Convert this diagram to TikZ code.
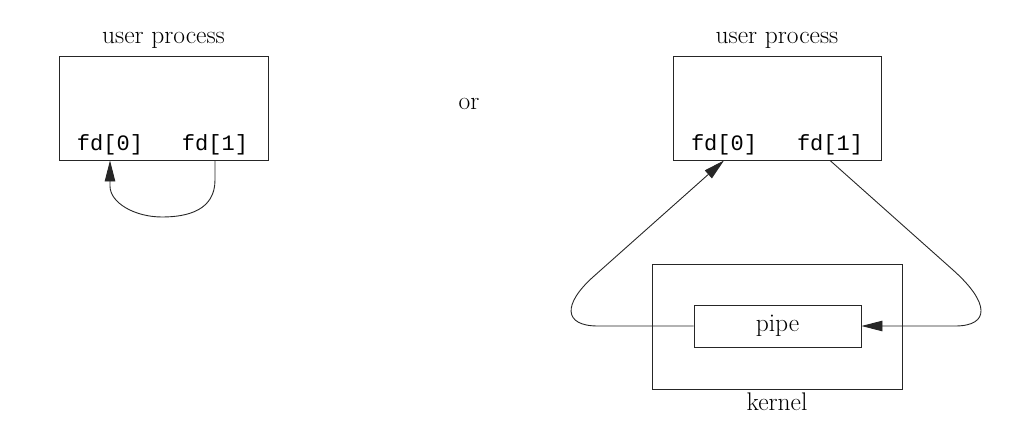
\documentclass[tikz,border=0pt]{standalone}
\usepackage{fontspec}
\newfontfamily\monofd{Liberation Mono}
\usetikzlibrary{arrows.meta}
\begin{document}
\begin{tikzpicture}[x=1pt,y=-1pt,
  box/.style={draw=black!85, line width=0.9pt, rectangle, inner sep=0pt},
  lbl/.style={font=\fontsize{25.5}{30}\selectfont, inner sep=0pt},
  fdl/.style={font=\monofd\fontsize{22}{26}\selectfont, inner sep=0pt},
  conn/.style={draw=black!85, line width=0.9pt},
  tip/.style={-{Triangle[length=21pt,width=10.5pt]}}
]
\useasboundingbox (0,0) rectangle (1024,428);
% left
\node[box, minimum width=209pt, minimum height=104pt] (ub1) at (163.5,108) {};
\node[lbl] (up1) at (163.5,40) {user process};
\node[fdl] (fa0) at (110,145) {fd[0]};
\node[fdl] (fa1) at (215,145) {fd[1]};
\draw[conn, tip] (fa1 |- ub1.south) -- (215,180) .. controls (215,210) and (188,217) .. (162,217) .. controls (135,217) and (110,203) .. (110,186) -- (fa0 |- ub1.south);
% or
\node[lbl] (or) at (469,104) {or};
% right
\node[box, minimum width=208pt, minimum height=104pt] (ub2) at (777,108) {};
\node[lbl] (up2) at (777,40) {user process};
\node[fdl] (fb0) at (724,145) {fd[0]};
\node[fdl] (fb1) at (830,145) {fd[1]};
\node[box, minimum width=250pt, minimum height=125pt] (kern) at (777,326.5) {};
\node[lbl] (kl) at (777,402) {kernel};
\node[box, minimum width=167pt, minimum height=42pt] (pipe) at (777.5,326) {};
\node[lbl] (pl) at (777.5,326) {pipe};
\draw[conn, tip] (pipe.west) -- (598,326) .. controls (563,326) and (563,304) .. (593,277) -- (fb0 |- ub2.south);
\draw[conn, tip] (fb1 |- ub2.south) -- (953,270) .. controls (990,303) and (990,326) .. (955,326) -- (pipe.east);
\end{tikzpicture}
\end{document}
